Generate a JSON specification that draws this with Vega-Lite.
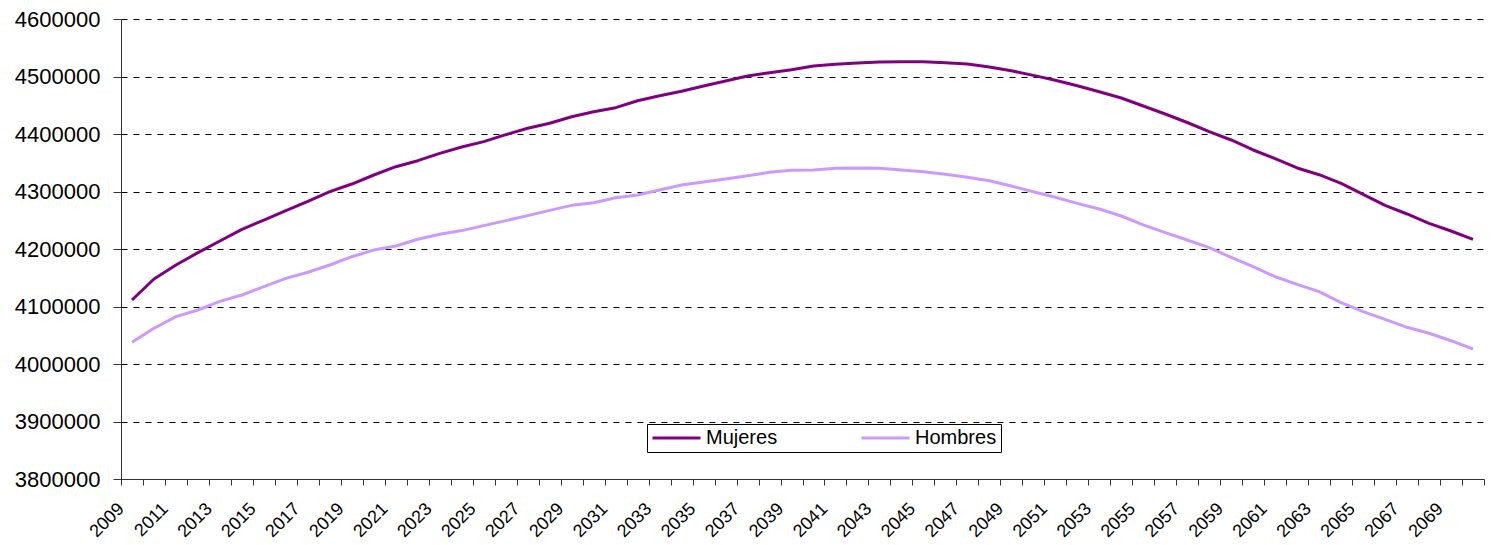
{
  "$schema": "https://vega.github.io/schema/vega-lite/v6.json",
  "width": 1363,
  "height": 460,
  "autosize": {"type": "none"},
  "padding": {"left": 121, "top": 19, "right": 10, "bottom": 66},
  "background": "white",
  "config": {
    "font": "Liberation Sans",
    "view": {"stroke": null},
    "axis": {"labelFont": "Liberation Sans", "labelColor": "black"}
  },
  "data": {
    "values": [
      {"year": 2009, "Mujeres": 4111300, "Hombres": 4037700},
      {"year": 2010, "Mujeres": 4147800, "Hombres": 4062100},
      {"year": 2011, "Mujeres": 4172200, "Hombres": 4082300},
      {"year": 2012, "Mujeres": 4193600, "Hombres": 4093900},
      {"year": 2013, "Mujeres": 4213900, "Hombres": 4109000},
      {"year": 2014, "Mujeres": 4234200, "Hombres": 4120000},
      {"year": 2015, "Mujeres": 4250400, "Hombres": 4134500},
      {"year": 2016, "Mujeres": 4266600, "Hombres": 4149000},
      {"year": 2017, "Mujeres": 4282900, "Hombres": 4159500},
      {"year": 2018, "Mujeres": 4299700, "Hombres": 4172200},
      {"year": 2019, "Mujeres": 4313000, "Hombres": 4186600},
      {"year": 2020, "Mujeres": 4328700, "Hombres": 4198300},
      {"year": 2021, "Mujeres": 4343100, "Hombres": 4205200},
      {"year": 2022, "Mujeres": 4353600, "Hombres": 4216900},
      {"year": 2023, "Mujeres": 4366400, "Hombres": 4225500},
      {"year": 2024, "Mujeres": 4377500, "Hombres": 4232000},
      {"year": 2025, "Mujeres": 4386700, "Hombres": 4240600},
      {"year": 2026, "Mujeres": 4398800, "Hombres": 4249300},
      {"year": 2027, "Mujeres": 4409900, "Hombres": 4258000},
      {"year": 2028, "Mujeres": 4418600, "Hombres": 4267200},
      {"year": 2029, "Mujeres": 4430100, "Hombres": 4275900},
      {"year": 2030, "Mujeres": 4438800, "Hombres": 4280500},
      {"year": 2031, "Mujeres": 4445800, "Hombres": 4289200},
      {"year": 2032, "Mujeres": 4457900, "Hombres": 4293900},
      {"year": 2033, "Mujeres": 4466600, "Hombres": 4302600},
      {"year": 2034, "Mujeres": 4474300, "Hombres": 4311300},
      {"year": 2035, "Mujeres": 4483500, "Hombres": 4316500},
      {"year": 2036, "Mujeres": 4492200, "Hombres": 4321700},
      {"year": 2037, "Mujeres": 4500900, "Hombres": 4327500},
      {"year": 2038, "Mujeres": 4506600, "Hombres": 4333400},
      {"year": 2039, "Mujeres": 4511800, "Hombres": 4336800},
      {"year": 2040, "Mujeres": 4518300, "Hombres": 4337400},
      {"year": 2041, "Mujeres": 4521200, "Hombres": 4340300},
      {"year": 2042, "Mujeres": 4523500, "Hombres": 4340900},
      {"year": 2043, "Mujeres": 4525200, "Hombres": 4340300},
      {"year": 2044, "Mujeres": 4525800, "Hombres": 4337400},
      {"year": 2045, "Mujeres": 4525800, "Hombres": 4334500},
      {"year": 2046, "Mujeres": 4524000, "Hombres": 4329900},
      {"year": 2047, "Mujeres": 4521700, "Hombres": 4324700},
      {"year": 2048, "Mujeres": 4516500, "Hombres": 4318800},
      {"year": 2049, "Mujeres": 4510100, "Hombres": 4309600},
      {"year": 2050, "Mujeres": 4502000, "Hombres": 4299700},
      {"year": 2051, "Mujeres": 4493400, "Hombres": 4289900},
      {"year": 2052, "Mujeres": 4484000, "Hombres": 4279400},
      {"year": 2053, "Mujeres": 4473600, "Hombres": 4269600},
      {"year": 2054, "Mujeres": 4462600, "Hombres": 4257400},
      {"year": 2055, "Mujeres": 4448700, "Hombres": 4242000},
      {"year": 2056, "Mujeres": 4434800, "Hombres": 4228400},
      {"year": 2057, "Mujeres": 4420000, "Hombres": 4215700},
      {"year": 2058, "Mujeres": 4404300, "Hombres": 4202300},
      {"year": 2059, "Mujeres": 4389600, "Hombres": 4185500},
      {"year": 2060, "Mujeres": 4372200, "Hombres": 4169200},
      {"year": 2061, "Mujeres": 4357100, "Hombres": 4151800},
      {"year": 2062, "Mujeres": 4340900, "Hombres": 4138600},
      {"year": 2063, "Mujeres": 4329200, "Hombres": 4125800},
      {"year": 2064, "Mujeres": 4314200, "Hombres": 4106600},
      {"year": 2065, "Mujeres": 4295100, "Hombres": 4091000},
      {"year": 2066, "Mujeres": 4276000, "Hombres": 4077700},
      {"year": 2067, "Mujeres": 4260900, "Hombres": 4063800},
      {"year": 2068, "Mujeres": 4244700, "Hombres": 4053400},
      {"year": 2069, "Mujeres": 4231300, "Hombres": 4040500},
      {"year": 2070, "Mujeres": 4216800, "Hombres": 4026100}
    ]
  },
  "transform": [{"fold": ["Mujeres", "Hombres"], "as": ["sexo", "poblacion"]}],
  "mark": {"type": "line", "strokeWidth": 3, "strokeJoin": "round"},
  "encoding": {
    "x": {
      "field": "year",
      "type": "ordinal",
      "bandPosition": 0.5,
      "scale": {"type": "band", "paddingInner": 0, "paddingOuter": 0},
      "axis": {
        "title": null,
        "tickBand": "extent",
        "labelExpr": "datum.value % 2 == 1 ? datum.label : ''",
        "labelAngle": -45,
        "labelAlign": "right",
        "labelBaseline": "middle",
        "labelFontSize": 18,
        "labelOverlap": false,
        "labelPadding": 21,
        "labelOffset": -11,
        "tickSize": 6,
        "tickColor": "#333333",
        "domainColor": "#333333",
        "grid": false
      }
    },
    "y": {
      "field": "poblacion",
      "type": "quantitative",
      "scale": {"domain": [3800000, 4600000], "zero": false, "nice": false},
      "axis": {
        "title": null,
        "values": [3800000, 3900000, 4000000, 4100000, 4200000, 4300000, 4400000, 4500000, 4600000],
        "format": "d",
        "labelFontSize": 22,
        "labelPadding": 13,
        "tickSize": 8,
        "tickColor": "#333333",
        "domainColor": "#333333",
        "grid": true,
        "gridColor": "black",
        "gridDash": [6, 6],
        "gridWidth": 1
      }
    },
    "color": {
      "field": "sexo",
      "type": "nominal",
      "scale": {"domain": ["Mujeres", "Hombres"], "range": ["#800080", "#CC99FF"]},
      "legend": {
        "title": null,
        "orient": "none",
        "legendX": 526,
        "legendY": 405,
        "direction": "horizontal",
        "columns": 2,
        "gridAlign": "each",
        "columnPadding": 82,
        "clipHeight": 20,
        "symbolType": "stroke",
        "symbolSize": 2304,
        "symbolStrokeWidth": 3,
        "labelFontSize": 20,
        "labelFont": "Liberation Sans",
        "labelColor": "black",
        "labelOffset": 4,
        "padding": 4,
        "strokeColor": "black",
        "fillColor": "white",
        "cornerRadius": 0
      }
    }
  }
}
